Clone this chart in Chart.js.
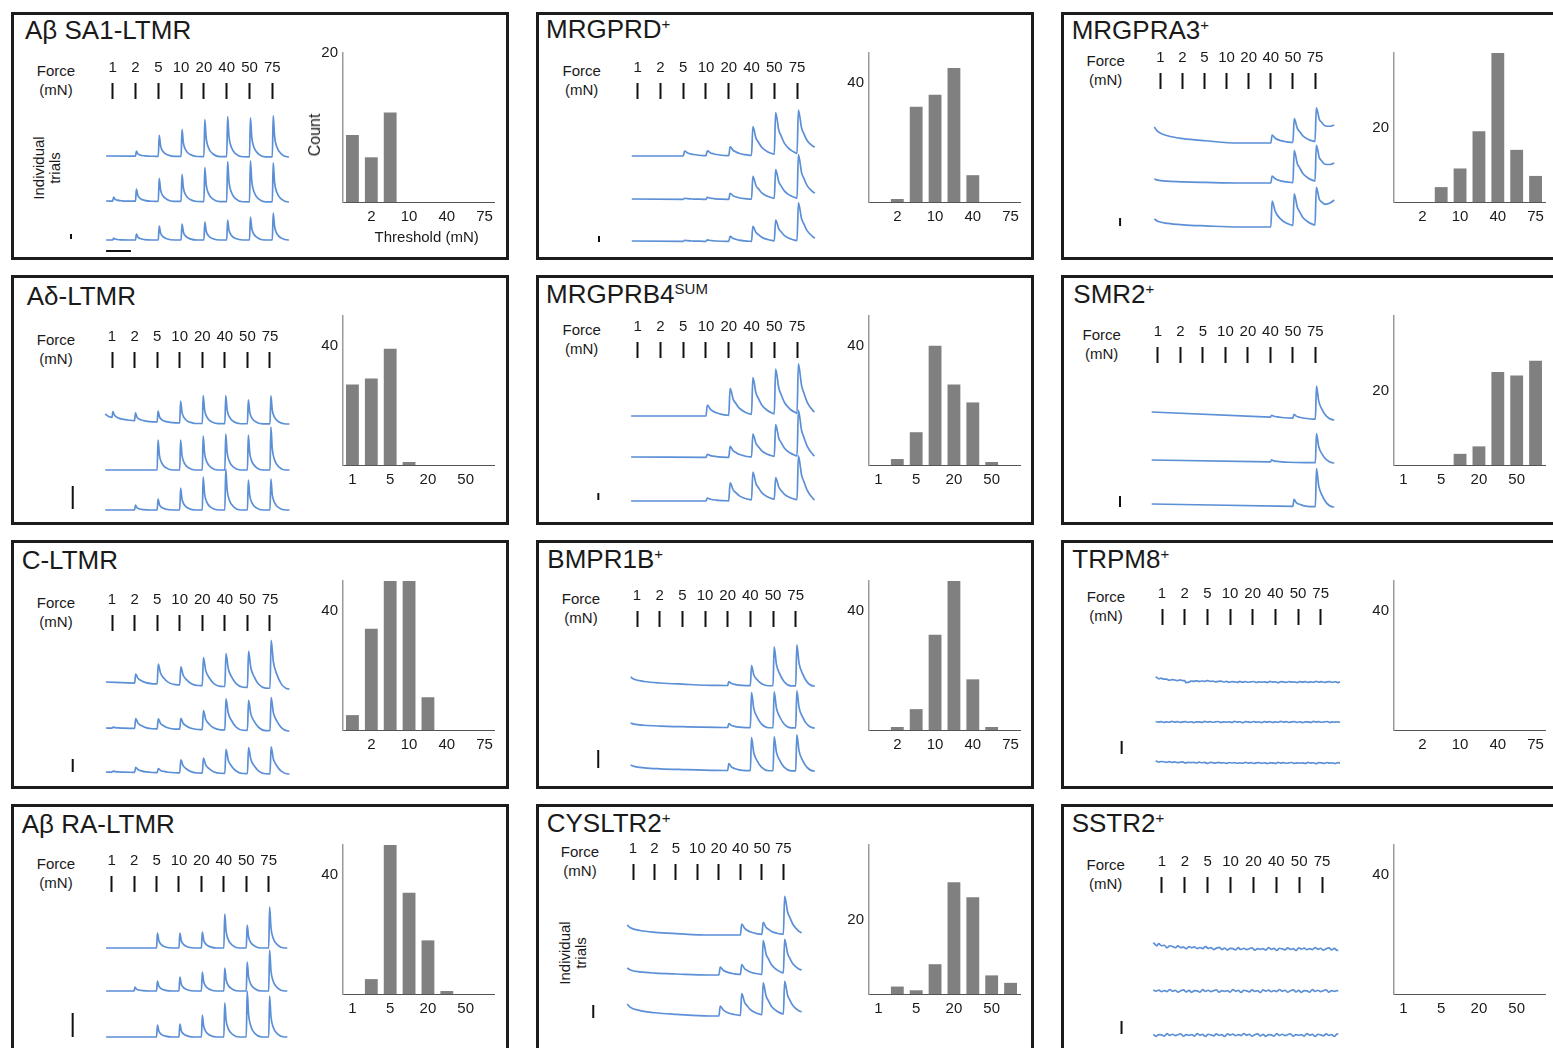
<!DOCTYPE html>
<html lang="en">
<head>
<meta charset="UTF-8">
<title>Force thresholds of DRG neuron subtypes</title>
<script src="https://cdn.jsdelivr.net/npm/chart.js"></script>
<style>
  html, body { margin: 0; padding: 0; background: #fff; }
  body { width: 1553px; height: 1048px; overflow: hidden; position: relative;
         font-family: "Liberation Sans", Arial, Helvetica, sans-serif; color: #1a1a1a; }
  .frame { position: absolute; width: 498px; border: 3px solid #1c1c1c; box-sizing: border-box; }
  .title { position: absolute; font-size: 26px; line-height: 26px; white-space: nowrap; }
  .title sup { font-size: 15px; vertical-align: 9px; line-height: 0; }
  .lbl { position: absolute; width: 80px; font-size: 15px; line-height: 18px; text-align: center; white-space: nowrap; }
  .rot { position: absolute; font-size: 15px; line-height: 16px; text-align: center; white-space: nowrap;
         transform: translate(-50%, -50%) rotate(-90deg); }
  canvas { position: absolute; }
</style>
</head>
<body>
<script>
// force steps (mN) used for the stimulus ticks and the threshold bins
const forceLabels = ['1', '2', '5', '10', '20', '40', '50', '75'];
const binsA = ['', '2', '', '10', '', '40', '', '75'];
const binsB = ['1', '', '5', '', '20', '', '50', ''];

// threshold histograms (count per bin)
const sa1Counts     = [9, 6, 12, 0, 0, 0, 0, 0];
const mrgprdCounts  = [0, 1, 32, 36, 45, 9, 0, 0];
const mrgpra3Counts = [0, 0, 4, 9, 19, 40, 14, 7];
const adCounts      = [27, 29, 39, 1, 0, 0, 0, 0];
const mrgprb4Counts = [0, 2, 11, 40, 27, 21, 1, 0];
const smr2Counts    = [0, 0, 0, 3, 5, 25, 24, 28];
const cltmrCounts   = [5, 34, 50, 50, 11, 0, 0, 0];
const bmpr1bCounts  = [0, 1, 7, 32, 50, 17, 1, 0];
const trpm8Counts   = [0, 0, 0, 0, 0, 0, 0, 0];
const raCounts      = [0, 5, 50, 34, 18, 1, 0, 0];
const cysltr2Counts = [0, 2, 1, 8, 30, 26, 5, 3];
const sstr2Counts   = [0, 0, 0, 0, 0, 0, 0, 0];

// response peaks per force step, three trials per subtype
const sa1Peaks     = [[0, 5, 21, 27, 37, 40, 39, 41], [4, 12, 23, 27, 34, 40, 41, 39], [2, 6, 14, 16, 18, 20, 23, 27]];
const mrgprdPeaks  = [[0, 0, 5, 5, 9, 29, 42, 44], [0, 0, 1, 2, 6, 23, 29, 44], [0, 0, 1, 1.5, 5, 15, 21, 38]];
const mrgpra3Peaks = [[0, 0, 0, 0, 0, 8, 24, 34], [0, 0, 0, 0, 0, 7, 32, 36], [0, 0, 0, 0, 0, 26, 32, 38]];
const adPeaks      = [[6, 8, 11, 22, 28, 28, 24, 28], [0, 0, 30, 30, 34, 36, 35, 43], [0, 5, 11, 22, 33, 41, 30, 31]];
const mrgprb4Peaks = [[0, 0, 0, 11, 27, 37, 45, 50], [0, 0, 0, 3, 11, 23, 32, 46], [0, 0, 0, 3, 18, 28, 22, 44]];
const smr2Peaks    = [[0, 0, 0, 0, 0, 2, 4, 33], [0, 0, 0, 0, 0, 2, 0, 29], [0, 0, 0, 0, 0, 0, 7, 38]];
const cltmrPeaks   = [[0, 9, 20, 18, 28, 33, 36, 48], [1, 10, 10, 11, 19, 31, 30, 33], [1, 5, 4, 13, 15, 24, 26, 27]];
const bmpr1bPeaks  = [[0, 0, 0, 0, 4, 20, 39, 41], [0, 0, 0, 0, 4, 35, 36, 37], [0, 0, 0, 0, 7, 33, 34, 36]];
const trpm8Peaks   = [[0, -2, 0, 0, 0, 0, 0, 0], [0, 0, 0, 0, 0, 0, 0, 0], [0, 0, 0, 0, 0, 0, 0, 0]];
const raPeaks      = [[0, 0, 15, 15, 16, 34, 23, 41], [0, 4, 10, 14, 19, 23, 29, 41], [0, 0, 12, 13, 22, 34, 46, 41]];
const cysltr2Peaks = [[0, 0, 0, 0, 0, 11, 12, 38], [0, 0, 0, 0, 8, 10, 34, 34], [0, 0, 0, 0, 10, 22, 32, 33]];
const sstr2Peaks   = [[0, 0, 0, 0, 0, 0, 0, 0], [0, 0, 0, 0, 0, 0, 0, 0], [0, 0, 0, 0, 0, 0, 0, 0]];

// baselines per trial: [initial elevation, baseline at start, baseline at end]
const sa1Base     = [[0, 101, 100], [0, 56, 55], [0, 17, 17]];
const mrgprdBase  = [[0, 101, 101], [0, 58, 57], [0, 16, 15]];
const mrgpra3Base = [[16, 114, 114], [4, 74, 74], [8, 30, 30]];
const adBase      = [[9, 97, 96], [0, 50, 50], [0, 10, 10]];
const mrgprb4Base = [[0, 104, 104], [0, 63, 62], [0, 19, 19]];
const smr2Base    = [[0, 108, 100], [0, 60, 57], [0, 16, 13]];
const cltmrBase   = [[0, 103, 96], [0, 57, 54], [0, 13, 11]];
const bmpr1bBase  = [[8, 100, 99], [4, 58, 57], [5, 15, 14]];
const trpm8Base   = [[5, 103, 103], [0, 63, 63], [2, 22, 22]];
const raBase      = [[0, 101, 101], [0, 58, 58], [0, 12, 12]];
const cysltr2Base = [[10, 114, 114], [7, 74, 74], [12, 33, 33]];
const sstr2Base   = [[6, 100, 100], [0, 58, 58], [0, 14, 14]];

// elevation still left at the end of the slow traces
const mrgprdEnd  = [9, 7, 4];
const mrgpra3End = [18, 20, 27];
const mrgprb4End = [4, 2, 1];
const cysltr2End = [2, 5, 4];

// jitter of the noisy traces
const traceJitter = [0.3, -0.7, 0.9, -0.2, 0.4, -1.0, 0.5, 0.1, -0.6, 0.8, -0.3, 0.2, -0.9, 0.7, -0.1, 0.6, -0.5, 0.3, -0.4, 1.0,
                     -0.2, 0.5, -0.8, 0.2, 0.7, -0.6, 0.4, -0.9, 0.3, 0.1, -0.7, 0.9, -0.3, 0.5, -0.4, 0.2, 0.8, -0.8, 0.3, -0.2];

// transient shapes (fraction of peak vs. time after stimulus, in stimulus intervals)
const shapes = {
  fast:   { t: [0, 0.04, 0.1, 0.2, 0.4, 0.7], v: [0, 1, 0.5, 0.24, 0.07, 0] },
  medium: { t: [0, 0.05, 0.15, 0.3, 0.5, 0.8], v: [0, 1, 0.55, 0.3, 0.1, 0] },
  slow:   { t: [0, 0.06, 0.2, 0.45, 0.7, 0.95, 1.3], v: [0, 1, 0.6, 0.3, 0.15, 0.07, 0] },
  start:  { t: [0, 0.15, 0.6, 1.3, 2.3, 3.8], v: [1, 0.72, 0.45, 0.27, 0.14, 0] }
};

const frameLeft = [11, 536, 1061];
const frameTop = [12, 275, 540, 804];
const frameH = [248, 250, 249, 260];
const histLeft = [343.3, 869.3, 1394.3];
const BOTTOM = 245;

const panels = [
  { title: 'Aβ SA1-LTMR', sup: '', tx: 25, tb: 39.3, fx: 56, top: 99.3, s0: 112.7, step: 22.8, xs: -0.29, xe: 7.73, shape: 'fast',
    counts: sa1Counts, peaks: sa1Peaks, base: sa1Base, ends: null, bar: [-1.83, 18, 23], timeBar: [-0.29, 0.8, 6], yMax: 20, yTick: 20, bins: binsA, trials: [47, 168], titles: true },
  { title: 'MRGPRD', sup: '+', tx: 546, tb: 38.3, fx: 581.7, top: 98.7, s0: 637.7, step: 22.76, xs: -0.26, xe: 7.79, shape: 'slow',
    counts: mrgprdCounts, peaks: mrgprdPeaks, base: mrgprdBase, ends: mrgprdEnd, bar: [-1.7, 15, 21], yMax: 50, yTick: 40, bins: binsA },
  { title: 'MRGPRA3', sup: '+', tx: 1071.7, tb: 39, fx: 1105.7, top: 88.7, s0: 1160.3, step: 22.1, xs: -0.27, xe: 7.87, shape: 'slow',
    counts: mrgpra3Counts, peaks: mrgpra3Peaks, base: mrgpra3Base, ends: mrgpra3End, bar: [-1.82, 31, 39], yMax: 40, yTick: 20, bins: binsA },
  { title: 'Aδ-LTMR', sup: '', tx: 26.7, tb: 305, fx: 56, top: 367.7, s0: 112, step: 22.57, xs: -0.3, xe: 7.86, shape: 'fast',
    counts: adCounts, peaks: adPeaks, base: adBase, ends: null, bar: [-1.74, 11, 34], yMax: 50, yTick: 40, bins: binsB },
  { title: 'MRGPRB4', sup: 'SUM', tx: 546, tb: 303.3, fx: 581.7, top: 357.7, s0: 637.7, step: 22.76, xs: -0.29, xe: 7.77, shape: 'slow',
    counts: mrgprb4Counts, peaks: mrgprb4Peaks, base: mrgprb4Base, ends: mrgprb4End, bar: [-1.73, 20, 27], yMax: 50, yTick: 40, bins: binsB },
  { title: 'SMR2', sup: '+', tx: 1073.3, tb: 303.3, fx: 1101.7, top: 363.3, s0: 1158, step: 22.48, xs: -0.28, xe: 7.84, shape: 'medium',
    counts: smr2Counts, peaks: smr2Peaks, base: smr2Base, ends: null, bar: [-1.69, 13, 24], yMax: 40, yTick: 20, bins: binsB },
  { title: 'C-LTMR', sup: '', tx: 21.7, tb: 569, fx: 56, top: 630.7, s0: 112, step: 22.57, xs: -0.27, xe: 7.86, shape: 'medium',
    counts: cltmrCounts, peaks: cltmrPeaks, base: cltmrBase, ends: null, bar: [-1.74, 13, 26], yMax: 50, yTick: 40, bins: binsA },
  { title: 'BMPR1B', sup: '+', tx: 547.3, tb: 568.3, fx: 581, top: 626.7, s0: 637, step: 22.67, xs: -0.28, xe: 7.85, shape: 'medium',
    counts: bmpr1bCounts, peaks: bmpr1bPeaks, base: bmpr1bBase, ends: null, bar: [-1.71, 17, 35], yMax: 50, yTick: 40, bins: binsA },
  { title: 'TRPM8', sup: '+', tx: 1072.3, tb: 568.3, fx: 1106, top: 625, s0: 1162, step: 22.67, xs: -0.28, xe: 7.85, shape: 'medium', noise: 0.6,
    counts: trpm8Counts, peaks: trpm8Peaks, base: trpm8Base, ends: null, bar: [-1.78, 31, 44], yMax: 50, yTick: 40, bins: binsA },
  { title: 'Aβ RA-LTMR', sup: '', tx: 21.7, tb: 833, fx: 56, top: 892, s0: 111.7, step: 22.43, xs: -0.25, xe: 7.83, shape: 'fast',
    counts: raCounts, peaks: raPeaks, base: raBase, ends: null, bar: [-1.74, 12, 36], yMax: 50, yTick: 40, bins: binsB },
  { title: 'CYSLTR2', sup: '+', tx: 546.7, tb: 832.3, fx: 580, top: 879.7, s0: 633, step: 21.48, xs: -0.27, xe: 7.85, shape: 'slow',
    counts: cysltr2Counts, peaks: cysltr2Peaks, base: cysltr2Base, ends: cysltr2End, bar: [-1.85, 31, 44], yMax: 40, yTick: 20, bins: binsB, trials: [573.3, 953] },
  { title: 'SSTR2', sup: '+', tx: 1071.7, tb: 832.3, fx: 1105.7, top: 892.7, s0: 1162, step: 22.86, xs: -0.38, xe: 7.71, shape: 'medium', noise: 1.5,
    counts: sstr2Counts, peaks: sstr2Peaks, base: sstr2Base, ends: null, bar: [-1.77, 15, 28], yMax: 50, yTick: 40, bins: binsB }
];

Chart.defaults.font.family = '"Liberation Sans", Arial, Helvetica, sans-serif';
Chart.defaults.color = '#1a1a1a';

function shapeAt(name, dt) {
  const k = shapes[name];
  if (dt < 0) return 0;
  const n = k.t.length;
  if (dt >= k.t[n - 1]) return k.v[n - 1];
  let i = 1;
  while (dt > k.t[i]) i++;
  return k.v[i - 1] + (k.v[i] - k.v[i - 1]) * (dt - k.t[i - 1]) / (k.t[i] - k.t[i - 1]);
}

function buildTrace(p, i) {
  const peaks = p.peaks[i];
  const [elev, b0, b1] = p.base[i];
  const sh = shapes[p.shape];
  const xs = p.xs, xe = p.xe;
  let pts = [xs, xe];
  peaks.forEach((pk, k) => {
    if (pk) { pts.push(k - 0.015); sh.t.forEach(t => pts.push(k + t)); }
  });
  if (elev) shapes.start.t.forEach(t => pts.push(xs + t));
  if (p.noise) for (let x = xs; x < xe; x += 0.12) pts.push(x);
  pts = [...new Set(pts.map(v => +v.toFixed(3)))].filter(v => v >= xs && v <= xe).sort((a, b) => a - b);

  const raw = x => elev * shapeAt('start', x - xs) + peaks.reduce((s, pk, k) => s + pk * shapeAt(p.shape, x - k), 0);
  let extra = () => 0;
  if (p.ends) {
    const tp = 7 + sh.t[1];
    const gap = p.ends[i] - raw(xe);
    extra = x => (x <= tp ? 0 : gap * (x - tp) / (xe - tp));
  }
  return pts.map(x => {
    const jit = p.noise ? p.noise * traceJitter[(Math.round((x - xs) / 0.12) + i * 13) % traceJitter.length] : 0;
    return { x: x, y: b0 + (b1 - b0) * (x - xs) / (xe - xs) + raw(x) + extra(x) + jit };
  });
}

function addDiv(cls, html, x, y) {
  const d = document.createElement('div');
  d.className = cls;
  d.innerHTML = html;
  d.style.left = x + 'px';
  d.style.top = y + 'px';
  document.body.appendChild(d);
  return d;
}

function addCanvas(x, y, w, h) {
  const c = document.createElement('canvas');
  c.width = w; c.height = h;
  c.style.left = x + 'px'; c.style.top = y + 'px';
  c.style.width = w + 'px'; c.style.height = h + 'px';
  document.body.appendChild(c);
  return c;
}

panels.forEach((p, n) => {
  const col = n % 3, row = Math.floor(n / 3);
  const rowTop = frameTop[row];

  const f = document.createElement('div');
  f.className = 'frame';
  f.style.left = frameLeft[col] + 'px';
  f.style.top = frameTop[row] + 'px';
  f.style.height = frameH[row] + 'px';
  document.body.appendChild(f);

  addDiv('title', p.title + (p.sup ? '<sup>' + p.sup + '</sup>' : ''), p.tx, p.tb - 22);
  addDiv('lbl', 'Force', p.fx - 40, p.top - 28 - 9);
  addDiv('lbl', '(mN)', p.fx - 40, p.top - 9 - 9);
  if (p.trials) {
    const r = addDiv('rot', 'Individual<br>trials', p.trials[0], p.trials[1]);
  }

  // traces with force ticks on top
  const bottom = rowTop + BOTTOM;
  const L = Math.round(p.s0 - 2 * p.step);
  const W = Math.round(9.9 * p.step);
  const T = Math.round(p.top);
  const xMin = (L - p.s0) / p.step;
  const cv = addCanvas(L, T - 40, W, bottom - T + 40);

  const datasets = [0, 1, 2].map(i => ({
    data: buildTrace(p, i),
    borderColor: '#5b8fd6',
    borderWidth: 1.7,
    pointRadius: 0,
    cubicInterpolationMode: 'monotone',
    borderJoinStyle: 'round',
    clip: false
  }));
  datasets.push({
    data: [{ x: p.bar[0], y: p.bar[1] }, { x: p.bar[0], y: p.bar[2] }],
    borderColor: '#111', borderWidth: 2, pointRadius: 0, clip: false
  });
  if (p.timeBar) {
    datasets.push({
      data: [{ x: p.timeBar[0], y: p.timeBar[2] }, { x: p.timeBar[1], y: p.timeBar[2] }],
      borderColor: '#111', borderWidth: 2, pointRadius: 0, clip: false
    });
  }

  new Chart(cv, {
    type: 'line',
    data: { datasets: datasets },
    options: {
      responsive: false, animation: false, devicePixelRatio: 1,
      layout: { padding: 0 },
      plugins: { legend: { display: false }, tooltip: { enabled: false } },
      scales: {
        x: {
          type: 'linear', position: 'top', min: xMin, max: xMin + W / p.step,
          grid: { display: true, drawOnChartArea: false, drawTicks: true, tickLength: 16, tickWidth: 2, tickColor: '#111' },
          border: { display: false },
          ticks: { autoSkip: false, maxRotation: 0, padding: 6, font: { size: 15 }, callback: v => forceLabels[v] },
          afterBuildTicks: s => { s.ticks = forceLabels.map((_, i) => ({ value: i })); },
          afterFit: s => { s.height = 40; }
        },
        y: { display: false, min: 0, max: bottom - T }
      }
    }
  });

  // threshold histogram
  const hx = Math.round(histLeft[col]);
  const hy = Math.round(rowTop + 38.5);
  const hc = addCanvas(hx - 30, hy - 12, 30 + 151 + 12, 12 + 151 + 30);
  new Chart(hc, {
    type: 'bar',
    data: {
      labels: p.bins,
      datasets: [{ data: p.counts, backgroundColor: '#808080', barPercentage: 0.68, categoryPercentage: 1 }]
    },
    options: {
      responsive: false, animation: false, devicePixelRatio: 1,
      layout: { padding: { top: 12, right: 12, left: 0, bottom: 0 } },
      plugins: { legend: { display: false }, tooltip: { enabled: false } },
      scales: {
        x: {
          grid: { display: false, drawTicks: false },
          border: { display: true, color: '#555', width: 1 },
          ticks: { autoSkip: false, maxRotation: 0, padding: 6, font: { size: 15 } },
          afterFit: s => { s.height = 30; }
        },
        y: {
          min: 0, max: p.yMax,
          grid: { display: false, drawTicks: false },
          border: { display: true, color: '#9a9a9a', width: 1.5 },
          ticks: { padding: 5, font: { size: 15 } },
          afterBuildTicks: s => { s.ticks = [{ value: p.yTick }]; },
          afterFit: s => { s.width = 30; }
        }
      }
    }
  });

  if (p.titles) {
    const c = addDiv('rot', 'Count', 315, 135);
    c.style.fontSize = '16px';
    const th = addDiv('lbl', 'Threshold (mN)', 426.7 - 60, 237.3 - 9);
    th.style.width = '120px';
  }
});
</script>
</body>
</html>
